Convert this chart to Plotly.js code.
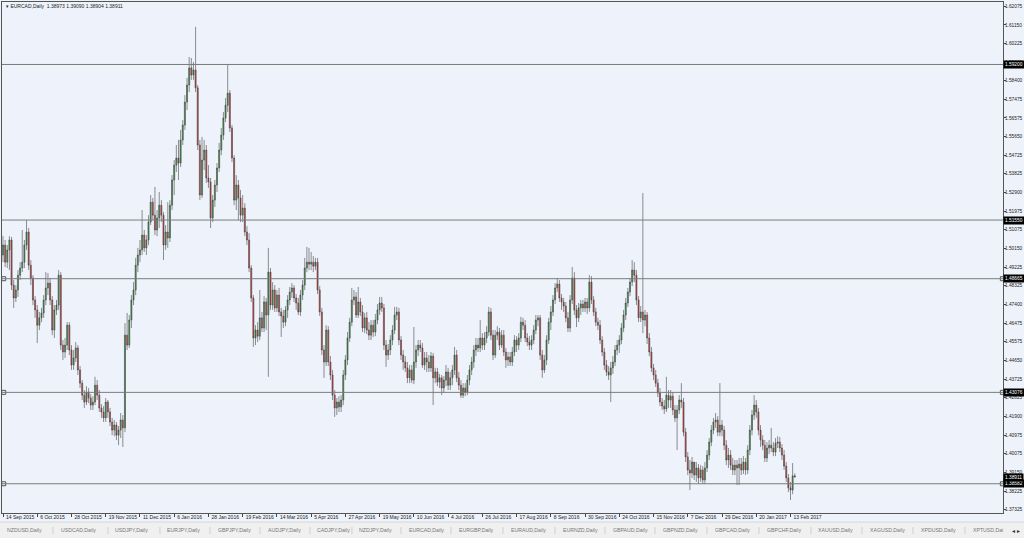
<!DOCTYPE html>
<html><head><meta charset="utf-8">
<script src="https://cdn.plot.ly/plotly-3.0.1.min.js"></script>
<style>html,body{margin:0;padding:0;background:#eef3fb;}#chart{width:1024px;height:538px;}</style>
</head><body><div id="chart"></div>
<script>
const chartTitle = 'EURCAD,Daily';
const dateLabels = ['14 Sep 2015','6 Oct 2015','28 Oct 2015','19 Nov 2015','11 Dec 2015','6 Jan 2016','28 Jan 2016','19 Feb 2016','14 Mar 2016','5 Apr 2016','27 Apr 2016','19 May 2016','10 Jun 2016','4 Jul 2016','26 Jul 2016','17 Aug 2016','8 Sep 2016','30 Sep 2016','24 Oct 2016','15 Nov 2016','7 Dec 2016','29 Dec 2016','20 Jan 2017','13 Feb 2017'];
const barsPerLabel = 16;

const opens = [1.4983,1.5032,1.4948,1.5008,1.5057,1.4835,1.4772,1.4811,1.4884,1.4919,
1.4948,1.5032,1.5096,1.4933,1.4870,1.4762,1.4713,1.4638,1.4674,1.4698,
1.4762,1.4821,1.4845,1.4762,1.4614,1.4713,1.4737,1.4884,1.4540,1.4506,
1.4540,1.4638,1.4516,1.4442,1.4477,1.4526,1.4418,1.4353,1.4294,1.4260,
1.4309,1.4280,1.4245,1.4260,1.4343,1.4294,1.4231,1.4211,1.4182,1.4260,
1.4211,1.4162,1.4122,1.4147,1.4097,1.4122,1.4172,1.4133,1.4589,1.4540,
1.4663,1.4762,1.4811,1.4933,1.4983,1.5008,1.5081,1.5018,1.5057,1.5145,
1.5243,1.5179,1.5106,1.5165,1.5228,1.5179,1.5032,1.5096,1.5067,1.5228,
1.5352,1.5425,1.5460,1.5435,1.5549,1.5622,1.5735,1.5819,1.5903,1.5868,
1.5893,1.5805,1.5524,1.5278,1.5450,1.5499,1.5362,1.5342,1.5165,1.5253,
1.5327,1.5411,1.5499,1.5573,1.5657,1.5720,1.5779,1.5608,1.5460,1.5253,
1.5327,1.5264,1.5179,1.5214,1.5096,1.5057,1.4919,1.4772,1.4575,1.4614,
1.4584,1.4674,1.4624,1.4752,1.4688,1.4899,1.4737,1.4811,1.4723,1.4786,
1.4703,1.4683,1.4653,1.4713,1.4762,1.4801,1.4821,1.4772,1.4747,1.4703,
1.4786,1.4835,1.4919,1.4948,1.4938,1.4948,1.4928,1.4948,1.4811,1.4703,
1.4516,1.4457,1.4614,1.4457,1.4393,1.4294,1.4231,1.4260,1.4236,1.4270,
1.4393,1.4467,1.4575,1.4653,1.4762,1.4777,1.4688,1.4752,1.4703,1.4624,
1.4674,1.4614,1.4589,1.4638,1.4604,1.4663,1.4713,1.4747,1.4723,1.4540,
1.4491,1.4516,1.4565,1.4614,1.4688,1.4703,1.4565,1.4491,1.4457,1.4428,
1.4379,1.4418,1.4368,1.4457,1.4516,1.4540,1.4526,1.4442,1.4477,1.4457,
1.4428,1.4486,1.4379,1.4408,1.4358,1.4379,1.4329,1.4368,1.4408,1.4343,
1.4379,1.4418,1.4491,1.4379,1.4343,1.4294,1.4329,1.4309,1.4368,1.4418,
1.4457,1.4516,1.4540,1.4526,1.4575,1.4540,1.4575,1.4604,1.4703,1.4589,
1.4491,1.4589,1.4604,1.4540,1.4589,1.4506,1.4467,1.4482,1.4457,1.4506,
1.4565,1.4540,1.4575,1.4653,1.4638,1.4575,1.4555,1.4540,1.4565,1.4614,
1.4663,1.4674,1.4491,1.4418,1.4467,1.4565,1.4653,1.4703,1.4762,1.4821,
1.4840,1.4772,1.4752,1.4732,1.4674,1.4624,1.4762,1.4870,1.4713,1.4674,
1.4723,1.4742,1.4723,1.4752,1.4723,1.4850,1.4762,1.4703,1.4653,1.4638,
1.4565,1.4506,1.4442,1.4408,1.4393,1.4428,1.4457,1.4516,1.4540,1.4565,
1.4624,1.4688,1.4747,1.4801,1.4850,1.4909,1.4884,1.4762,1.4674,1.4703,
1.4663,1.4688,1.4575,1.4506,1.4428,1.4393,1.4353,1.4304,1.4260,1.4240,
1.4226,1.4294,1.4270,1.4289,1.4221,1.4182,1.4221,1.4270,1.4260,1.4112,
1.3990,1.3926,1.3911,1.3965,1.3901,1.3936,1.3887,1.3926,1.3877,1.3936,
1.3999,1.4063,1.4122,1.4162,1.4172,1.4112,1.4147,1.4122,1.4048,1.3975,
1.3999,1.3950,1.3926,1.3950,1.3936,1.3955,1.3926,1.3965,1.3926,1.4024,
1.4122,1.4196,1.4245,1.4211,1.4122,1.4073,1.4048,1.3985,1.4034,1.4048,
1.4034,1.4014,1.4058,1.4063,1.4034,1.3999,1.3945,1.3887,1.3838,1.3827,
1.38973];

const highs = [1.5076,1.5057,1.5032,1.5076,1.5072,1.4860,1.4835,1.4909,1.4948,1.5106,
1.5057,1.5155,1.5116,1.4958,1.4884,1.4781,1.4737,1.4703,1.4723,1.4786,
1.4899,1.4894,1.4870,1.4781,1.4737,1.4762,1.4909,1.4899,1.4565,1.4575,
1.4653,1.4653,1.4540,1.4516,1.4555,1.4540,1.4437,1.4368,1.4319,1.4338,
1.4329,1.4299,1.4289,1.4384,1.4368,1.4319,1.4250,1.4240,1.4280,1.4270,
1.4231,1.4182,1.4172,1.4162,1.4142,1.4206,1.4196,1.4648,1.4698,1.4688,
1.4786,1.4850,1.4969,1.5018,1.5057,1.5204,1.5106,1.5081,1.5179,1.5278,
1.5264,1.5318,1.5204,1.5293,1.5253,1.5194,1.5130,1.5243,1.5253,1.5376,
1.5450,1.5524,1.5549,1.5598,1.5647,1.5769,1.5854,1.5957,1.5952,1.5932,
1.6105,1.5819,1.5549,1.5564,1.5549,1.5524,1.5425,1.5362,1.5278,1.5352,
1.5435,1.5534,1.5608,1.5686,1.5755,1.5917,1.5794,1.5622,1.5474,1.5376,
1.5352,1.5303,1.5278,1.5238,1.5125,1.5091,1.4933,1.4786,1.4638,1.4653,
1.4811,1.4703,1.4781,1.4772,1.5018,1.4919,1.4850,1.4835,1.4811,1.4821,
1.4723,1.4713,1.4732,1.4786,1.4826,1.4845,1.4835,1.4791,1.4772,1.4811,
1.4860,1.4969,1.5023,1.5018,1.4998,1.4978,1.4969,1.4969,1.4830,1.4723,
1.4540,1.4638,1.4633,1.4486,1.4418,1.4319,1.4280,1.4289,1.4294,1.4418,
1.4491,1.4604,1.4674,1.4821,1.4811,1.4801,1.4826,1.4772,1.4737,1.4698,
1.4703,1.4653,1.4663,1.4663,1.4693,1.4742,1.4777,1.4777,1.4742,1.4565,
1.4545,1.4589,1.4638,1.4728,1.4728,1.4723,1.4584,1.4516,1.4486,1.4457,
1.4442,1.4442,1.4629,1.4540,1.4565,1.4565,1.4550,1.4506,1.4506,1.4491,
1.4506,1.4501,1.4428,1.4428,1.4398,1.4393,1.4388,1.4442,1.4428,1.4408,
1.4442,1.4531,1.4516,1.4408,1.4368,1.4353,1.4353,1.4393,1.4442,1.4482,
1.4540,1.4575,1.4575,1.4663,1.4599,1.4604,1.4633,1.4728,1.4723,1.4614,
1.4614,1.4633,1.4624,1.4614,1.4614,1.4526,1.4506,1.4506,1.4531,1.4589,
1.4584,1.4599,1.4679,1.4674,1.4663,1.4599,1.4584,1.4589,1.4638,1.4688,
1.4688,1.4688,1.4516,1.4491,1.4589,1.4674,1.4732,1.4786,1.4845,1.4870,
1.4860,1.4791,1.4772,1.4752,1.4703,1.4786,1.4924,1.4899,1.4737,1.4747,
1.4762,1.4762,1.4772,1.4772,1.4884,1.4879,1.4781,1.4723,1.4674,1.4663,
1.4584,1.4526,1.4467,1.4437,1.4457,1.4486,1.4540,1.4565,1.4589,1.4648,
1.4713,1.4772,1.4821,1.4870,1.4958,1.4948,1.4909,1.4781,1.4732,1.5288,
1.4713,1.4703,1.4599,1.4531,1.4447,1.4418,1.4374,1.4329,1.4280,1.4270,
1.4384,1.4319,1.4319,1.4309,1.4245,1.4245,1.4294,1.4353,1.4280,1.4133,
1.4014,1.3975,1.3990,1.3936,1.3965,1.3955,1.3950,1.3945,1.3965,1.4024,
1.4083,1.4147,1.4182,1.4206,1.4191,1.4353,1.4172,1.4142,1.4073,1.4034,
1.4024,1.3985,1.3975,1.3975,1.3985,1.3985,1.3994,1.3985,1.4048,1.4147,
1.4221,1.4294,1.4270,1.4231,1.4147,1.4097,1.4073,1.4063,1.4073,1.4133,
1.4063,1.4083,1.4092,1.4088,1.4053,1.4024,1.3965,1.3906,1.3867,1.3960,
1.39090];

const lows = [1.4948,1.4924,1.4919,1.4909,1.4811,1.4723,1.4752,1.4777,1.4860,1.4899,
1.4919,1.5008,1.4909,1.4835,1.4737,1.4674,1.4550,1.4614,1.4653,1.4674,
1.4737,1.4786,1.4737,1.4589,1.4575,1.4688,1.4713,1.4516,1.4467,1.4477,
1.4516,1.4491,1.4418,1.4418,1.4457,1.4393,1.4329,1.4270,1.4231,1.4245,
1.4255,1.4221,1.4221,1.4245,1.4270,1.4211,1.4182,1.4162,1.4162,1.4182,
1.4142,1.4097,1.4092,1.4073,1.4048,1.4083,1.4039,1.4112,1.4516,1.4526,
1.4624,1.4737,1.4786,1.4899,1.4948,1.4983,1.4998,1.4983,1.5032,1.5130,
1.5155,1.5081,1.5076,1.5116,1.5145,1.4958,1.5008,1.5018,1.5047,1.5204,
1.5278,1.5391,1.5352,1.5416,1.5524,1.5598,1.5696,1.5784,1.5844,1.5844,
1.5784,1.5499,1.5253,1.5264,1.5401,1.5337,1.5313,1.5116,1.5145,1.5219,
1.5293,1.5391,1.5474,1.5549,1.5637,1.5686,1.5588,1.5440,1.5228,1.5204,
1.5155,1.5145,1.5145,1.5076,1.5032,1.4899,1.4752,1.4531,1.4540,1.4555,
1.4565,1.4604,1.4604,1.4614,1.4384,1.4713,1.4713,1.4703,1.4703,1.4683,
1.4580,1.4624,1.4633,1.4674,1.4737,1.4772,1.4752,1.4713,1.4688,1.4683,
1.4762,1.4811,1.4899,1.4909,1.4909,1.4899,1.4909,1.4791,1.4683,1.4491,
1.4379,1.4437,1.4437,1.4368,1.4270,1.4187,1.4196,1.4211,1.4211,1.4245,
1.4368,1.4442,1.4555,1.4633,1.4737,1.4674,1.4674,1.4683,1.4604,1.4599,
1.4594,1.4565,1.4565,1.4580,1.4584,1.4643,1.4688,1.4703,1.4516,1.4433,
1.4467,1.4491,1.4540,1.4594,1.4663,1.4540,1.4467,1.4418,1.4408,1.4353,
1.4353,1.4353,1.4348,1.4428,1.4486,1.4506,1.4428,1.4418,1.4408,1.4408,
1.4408,1.4245,1.4353,1.4338,1.4329,1.4294,1.4309,1.4338,1.4319,1.4319,
1.4343,1.4393,1.4358,1.4319,1.4280,1.4280,1.4289,1.4294,1.4343,1.4393,
1.4428,1.4486,1.4506,1.4506,1.4516,1.4516,1.4550,1.4584,1.4565,1.4467,
1.4477,1.4565,1.4516,1.4526,1.4486,1.4428,1.4437,1.4437,1.4437,1.4486,
1.4506,1.4516,1.4555,1.4614,1.4555,1.4535,1.4516,1.4516,1.4545,1.4594,
1.4633,1.4467,1.4379,1.4403,1.4442,1.4545,1.4614,1.4683,1.4742,1.4801,
1.4752,1.4713,1.4703,1.4653,1.4604,1.4604,1.4742,1.4688,1.4629,1.4653,
1.4688,1.4703,1.4703,1.4693,1.4703,1.4742,1.4683,1.4633,1.4614,1.4545,
1.4486,1.4418,1.4388,1.4368,1.4260,1.4398,1.4437,1.4491,1.4501,1.4545,
1.4604,1.4663,1.4728,1.4781,1.4830,1.4850,1.4737,1.4653,1.4653,1.4599,
1.4633,1.4545,1.4486,1.4408,1.4368,1.4334,1.4285,1.4240,1.4221,1.4201,
1.4211,1.4231,1.4231,1.4196,1.4162,1.4024,1.4201,1.4231,1.4092,1.3965,
1.3901,1.3827,1.3887,1.3877,1.3867,1.3857,1.3867,1.3857,1.3857,1.3916,
1.3975,1.4043,1.4102,1.4133,1.4092,1.4092,1.4092,1.4024,1.3950,1.3936,
1.3926,1.3901,1.3901,1.3852,1.3852,1.3901,1.3906,1.3901,1.3906,1.3999,
1.4097,1.4172,1.4182,1.4097,1.4039,1.4024,1.3965,1.3965,1.4004,1.4014,
1.3994,1.3994,1.4034,1.4014,1.3975,1.3926,1.3867,1.3817,1.3778,1.3807,
1.38904];

const closes = [1.5032,1.4948,1.5008,1.5057,1.4835,1.4772,1.4811,1.4884,1.4919,1.4948,
1.5032,1.5096,1.4933,1.4870,1.4762,1.4713,1.4638,1.4674,1.4698,1.4762,
1.4821,1.4845,1.4762,1.4614,1.4713,1.4737,1.4884,1.4540,1.4506,1.4540,
1.4638,1.4516,1.4442,1.4477,1.4526,1.4418,1.4353,1.4294,1.4260,1.4309,
1.4280,1.4245,1.4260,1.4343,1.4294,1.4231,1.4211,1.4182,1.4260,1.4211,
1.4162,1.4122,1.4147,1.4097,1.4122,1.4172,1.4133,1.4589,1.4540,1.4663,
1.4762,1.4811,1.4933,1.4983,1.5008,1.5081,1.5018,1.5057,1.5145,1.5243,
1.5179,1.5106,1.5165,1.5228,1.5179,1.5032,1.5096,1.5067,1.5228,1.5352,
1.5425,1.5460,1.5435,1.5549,1.5622,1.5735,1.5819,1.5903,1.5868,1.5893,
1.5805,1.5524,1.5278,1.5450,1.5499,1.5362,1.5342,1.5165,1.5253,1.5327,
1.5411,1.5499,1.5573,1.5657,1.5720,1.5779,1.5608,1.5460,1.5253,1.5327,
1.5264,1.5179,1.5214,1.5096,1.5057,1.4919,1.4772,1.4575,1.4614,1.4584,
1.4674,1.4624,1.4752,1.4688,1.4899,1.4737,1.4811,1.4723,1.4786,1.4703,
1.4683,1.4653,1.4713,1.4762,1.4801,1.4821,1.4772,1.4747,1.4703,1.4786,
1.4835,1.4919,1.4948,1.4938,1.4948,1.4928,1.4948,1.4811,1.4703,1.4516,
1.4457,1.4614,1.4457,1.4393,1.4294,1.4231,1.4260,1.4236,1.4270,1.4393,
1.4467,1.4575,1.4653,1.4762,1.4777,1.4688,1.4752,1.4703,1.4624,1.4674,
1.4614,1.4589,1.4638,1.4604,1.4663,1.4713,1.4747,1.4723,1.4540,1.4491,
1.4516,1.4565,1.4614,1.4688,1.4703,1.4565,1.4491,1.4457,1.4428,1.4379,
1.4418,1.4368,1.4457,1.4516,1.4540,1.4526,1.4442,1.4477,1.4457,1.4428,
1.4486,1.4379,1.4408,1.4358,1.4379,1.4329,1.4368,1.4408,1.4343,1.4379,
1.4418,1.4491,1.4379,1.4343,1.4294,1.4329,1.4309,1.4368,1.4418,1.4457,
1.4516,1.4540,1.4526,1.4575,1.4540,1.4575,1.4604,1.4703,1.4589,1.4491,
1.4589,1.4604,1.4540,1.4589,1.4506,1.4467,1.4482,1.4457,1.4506,1.4565,
1.4540,1.4575,1.4653,1.4638,1.4575,1.4555,1.4540,1.4565,1.4614,1.4663,
1.4674,1.4491,1.4418,1.4467,1.4565,1.4653,1.4703,1.4762,1.4821,1.4840,
1.4772,1.4752,1.4732,1.4674,1.4624,1.4762,1.4870,1.4713,1.4674,1.4723,
1.4742,1.4723,1.4752,1.4723,1.4850,1.4762,1.4703,1.4653,1.4638,1.4565,
1.4506,1.4442,1.4408,1.4393,1.4428,1.4457,1.4516,1.4540,1.4565,1.4624,
1.4688,1.4747,1.4801,1.4850,1.4909,1.4884,1.4762,1.4674,1.4703,1.4663,
1.4688,1.4575,1.4506,1.4428,1.4393,1.4353,1.4304,1.4260,1.4240,1.4226,
1.4294,1.4270,1.4289,1.4221,1.4182,1.4221,1.4270,1.4260,1.4112,1.3990,
1.3926,1.3911,1.3965,1.3901,1.3936,1.3887,1.3926,1.3877,1.3936,1.3999,
1.4063,1.4122,1.4162,1.4172,1.4112,1.4147,1.4122,1.4048,1.3975,1.3999,
1.3950,1.3926,1.3950,1.3936,1.3955,1.3926,1.3965,1.3926,1.4024,1.4122,
1.4196,1.4245,1.4211,1.4122,1.4073,1.4048,1.3985,1.4034,1.4048,1.4034,
1.4014,1.4058,1.4063,1.4034,1.3999,1.3945,1.3887,1.3838,1.3827,1.3897,
1.38911];

const yTickValues = [1.62075,1.61150,1.60225,1.59300,1.58400,1.57475,1.56575,1.55650,1.54725,1.53825,1.52900,1.51975,1.51075,1.50150,1.49225,1.48325,1.47400,1.46475,1.45575,1.44650,1.43725,1.42825,1.41900,1.40975,1.40075,1.39150,1.38225,1.37325];
const levelPrices = [1.59200,1.51550,1.48665,1.43076,1.38582];
const levelHasAnchors = [false,false,true,true,true];
const tabNames = ['NZDUSD,Daily','USDCAD,Daily','USDJPY,Daily','EURJPY,Daily','GBPJPY,Daily','AUDJPY,Daily','CADJPY,Daily','NZDJPY,Daily','EURCAD,Daily','EURGBP,Daily','EURAUD,Daily','EURNZD,Daily','GBPAUD,Daily','GBPNZD,Daily','GBPCAD,Daily','GBPCHF,Daily','XAUUSD,Daily','XAGUSD,Daily','XPDUSD,Daily','XPTUSD,Dai'];

/* ---- layout geometry (pixels) ---- */
const W = 1024, H = 538;
const M = {l: 2, r: 21, t: 2, b: 25};
const plotW = W - M.l - M.r, plotH = H - M.t - M.b;
const tabLeft = [5,59,113,165,216,266,315,357,407,457,509,561,611,661,713,765,816,868,919,971];
const tabSeps = [53,108,160,210,260,310,352,401,451,503,555,605,655,707,759,811,862,913,965];
const px2paperX = p => (p - M.l) / plotW;
const px2paperY = p => (H - M.b - p) / plotH;
const FONT = 'Liberation Sans, Arial, sans-serif';

const xs = closes.map((_, i) => i);
const dateTicks = dateLabels.map((_, k) => k * barsPerLabel);
const fmt = v => v.toFixed(5);

const candle = {
  type: 'candlestick', x: xs, open: opens, high: highs, low: lows, close: closes,
  increasing: {line: {color: '#454545', width: 0.6}, fillcolor: '#2f9a36'},
  decreasing: {line: {color: '#454545', width: 0.6}, fillcolor: '#e3302f'},
  whiskerwidth: 0, hoverinfo: 'none', showlegend: false
};

const xLeft = -0.467, xRight = 467.3;
const anchorX = [], anchorY = [];
levelPrices.forEach((p, i) => {
  if (levelHasAnchors[i]) { anchorX.push(xLeft + 0.8, xRight - 0.3); anchorY.push(p, p); }
});
const anchors = {
  type: 'scatter', mode: 'markers', x: anchorX, y: anchorY, cliponaxis: false,
  marker: {symbol: 'square-open', size: 4, color: '#555', line: {width: 1, color: '#555'}},
  hoverinfo: 'none', showlegend: false
};

const shapes = levelPrices.map(p => ({
  type: 'line', xref: 'paper', x0: 0, x1: 1, yref: 'y', y0: p, y1: p,
  line: {color: '#7a7a7a', width: 1}, layer: 'above'
}));
shapes.push({type: 'rect', xref: 'paper', yref: 'paper',
  x0: px2paperX(0), x1: px2paperX(W), y0: px2paperY(522), y1: px2paperY(H),
  fillcolor: '#f0f0f0', line: {width: 0}, layer: 'below'});
shapes.push({type: 'line', xref: 'paper', yref: 'paper',
  x0: px2paperX(0), x1: px2paperX(W), y0: px2paperY(522), y1: px2paperY(522),
  line: {color: '#d6d6d6', width: 1}});

const annotations = [];
annotations.push({xref: 'paper', yref: 'paper', x: px2paperX(4), y: px2paperY(6),
  xanchor: 'left', yanchor: 'middle', showarrow: false,
  text: '\u25BE ' + chartTitle + '  ' + [opens, highs, lows, closes].map(a => fmt(a[a.length - 1])).join(' '),
  font: {family: FONT, size: 5, color: '#222'}});
levelPrices.concat([closes[closes.length - 1]]).forEach(p => {
  annotations.push({xref: 'paper', x: 1, xshift: 0, xanchor: 'left', yref: 'y', y: p, yanchor: 'middle',
    text: fmt(p), showarrow: false, bgcolor: '#000', borderpad: 1,
    font: {family: FONT, size: 4.8, color: '#fff'}});
});
tabNames.forEach((t, i) => {
  annotations.push({xref: 'paper', yref: 'paper', x: px2paperX(tabLeft[i]), y: px2paperY(530),
    xanchor: 'left', yanchor: 'middle', showarrow: false, text: t,
    font: {family: FONT, size: 5.2, color: '#777'}});
});
tabSeps.forEach(s => {
  annotations.push({xref: 'paper', yref: 'paper', x: px2paperX(s), y: px2paperY(530),
    xanchor: 'center', yanchor: 'middle', showarrow: false, text: '|',
    font: {family: FONT, size: 7, color: '#bbb'}});
});
annotations.push({xref: 'paper', yref: 'paper', x: px2paperX(1016), y: px2paperY(530),
  xanchor: 'center', yanchor: 'middle', showarrow: false, text: '\u25C2 \u25B8',
  font: {family: 'DejaVu Sans', size: 6, color: '#333'}});

const layout = {
  width: W, height: H, margin: M,
  paper_bgcolor: '#eef3fb', plot_bgcolor: '#eef3fb',
  showlegend: false, dragmode: false, hovermode: false,
  xaxis: {
    type: 'linear', range: [xLeft, xRight], rangeslider: {visible: false},
    tickmode: 'array', tickvals: dateTicks, ticktext: dateLabels, tickangle: 0,
    ticks: 'outside', ticklen: 3, tickcolor: '#444', tickwidth: 1,
    ticklabelposition: 'outside right', ticklabelstandoff: -1, ticklabelshift: 2,
    tickfont: {family: FONT, size: 5, color: '#222'},
    showgrid: false, zeroline: false, showline: true, linecolor: '#555', linewidth: 1, mirror: true
  },
  yaxis: {
    side: 'right', range: [1.37144, 1.62272],
    tickmode: 'array', tickvals: yTickValues, ticktext: yTickValues.map(fmt),
    ticks: 'outside', ticklen: 2, tickcolor: '#444', tickwidth: 1, ticklabelstandoff: -2,
    tickfont: {family: FONT, size: 4.8, color: '#222'},
    showgrid: false, zeroline: false, showline: true, linecolor: '#555', linewidth: 1, mirror: true
  },
  shapes: shapes, annotations: annotations
};

Plotly.newPlot('chart', [candle, anchors], layout, {staticPlot: true, displayModeBar: false});
</script>
</body></html>
